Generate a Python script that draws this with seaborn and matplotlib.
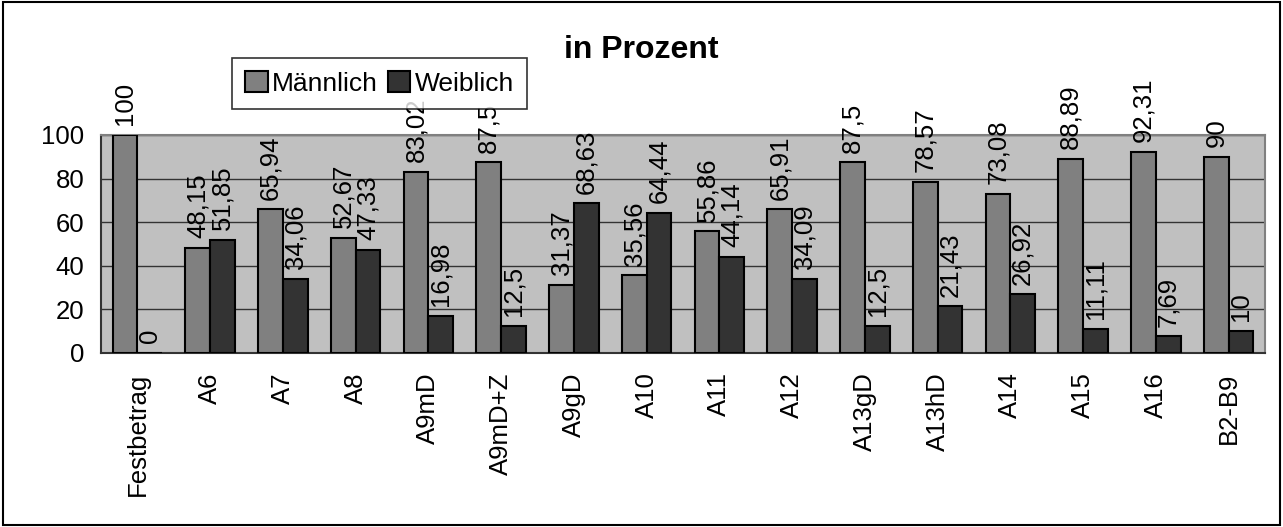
import matplotlib
matplotlib.use('Agg')
import matplotlib.pyplot as plt
from matplotlib.patches import Rectangle
import seaborn as sns
import pandas as pd

# Data
categories = ['Festbetrag', 'A6', 'A7', 'A8', 'A9mD', 'A9mD+Z', 'A9gD', 'A10', 'A11',
              'A12', 'A13gD', 'A13hD', 'A14', 'A15', 'A16', 'B2-B9']
maennlich = [100, 48.15, 65.94, 52.67, 83.02, 87.5, 31.37, 35.56, 55.86,
             65.91, 87.5, 78.57, 73.08, 88.89, 92.31, 90]
weiblich = [0, 51.85, 34.06, 47.33, 16.98, 12.5, 68.63, 64.44, 44.14,
            34.09, 12.5, 21.43, 26.92, 11.11, 7.69, 10]
series = ['Männlich', 'Weiblich']

df = pd.DataFrame({
    'Kategorie': categories * 2,
    'Wert': maennlich + weiblich,
    'Geschlecht': [series[0]] * len(categories) + [series[1]] * len(categories),
})

sns.set_style('white')
plt.rcParams['font.family'] = ['Liberation Sans', 'DejaVu Sans']
plt.rcParams['text.color'] = 'black'
plt.rcParams['xtick.color'] = 'black'
plt.rcParams['ytick.color'] = 'black'

FS = 18.5

fig = plt.figure(figsize=(12.83, 5.27), dpi=100)
ax = fig.add_axes([101 / 1283, 1 - 353 / 527, (1265 - 101) / 1283, (353 - 135) / 527])
ax.set_facecolor('#C0C0C0')

sns.barplot(data=df, x='Kategorie', y='Wert', hue='Geschlecht', hue_order=series,
            palette=['#808080', '#333333'], edgecolor='black', linewidth=1.5,
            width=0.68, saturation=1, ax=ax, zorder=3)

# value labels, German decimal comma
for cont, vals in zip(ax.containers, [maennlich, weiblich]):
    labels = [('%g' % v).replace('.', ',') for v in vals]
    ax.bar_label(cont, labels=labels, rotation=90, padding=7, fontsize=FS, color='black')

ax.set_ylim(0, 100)
ax.set_xlim(-0.5, len(categories) - 0.5)
ax.set_yticks(range(0, 101, 20))
ax.yaxis.grid(True, color='#333333', linewidth=1)
ax.set_axisbelow(True)
ax.set_xlabel('')
ax.set_ylabel('')

ax.set_xticks(range(len(categories)))
ax.set_xticklabels(categories, rotation=90, fontsize=FS)
ax.set_xticks([i - 0.5 for i in range(len(categories) + 1)], minor=True)
ax.tick_params(axis='x', which='major', length=0, pad=14)
ax.tick_params(axis='x', which='minor', length=8, width=1.2, color='#333333', direction='out')
ax.tick_params(axis='y', length=8, width=1.2, color='#333333', direction='out', labelsize=FS, pad=4)
for s in ['top', 'right']:
    ax.spines[s].set_color('#808080')
    ax.spines[s].set_linewidth(1.5)
for s in ['left', 'bottom']:
    ax.spines[s].set_color('#333333')
    ax.spines[s].set_linewidth(1.5)

ax.legend_.remove()
handles, lbls = ax.get_legend_handles_labels()
leg = fig.legend(handles, lbls, loc='upper left', bbox_to_anchor=(232 / 1283, 1 - 58 / 527),
                 ncol=2, fontsize=FS + 0.5, frameon=True, fancybox=False, edgecolor='black',
                 handlelength=0.85, handleheight=0.85, handletextpad=0.15, columnspacing=0.4,
                 borderpad=0.5, borderaxespad=0)
leg.get_frame().set_linewidth(1.2)

fig.text(0.5, 1 - 50 / 527, 'in Prozent', ha='center', va='center', fontsize=23, fontweight='bold')

# outer chart border
fig.patches.append(Rectangle((3 / 1283, 2 / 527), 1277 / 1283, 523 / 527, transform=fig.transFigure,
                             fill=False, edgecolor='black', linewidth=1.5))

fig.savefig('out.png', dpi=100)
